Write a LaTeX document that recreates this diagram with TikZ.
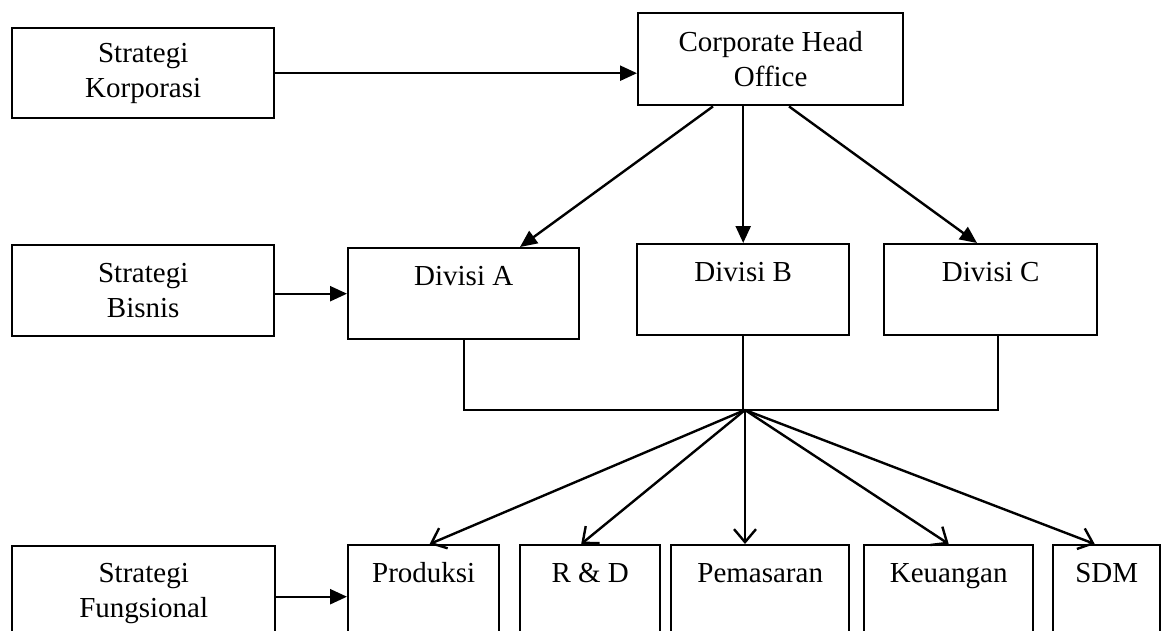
\documentclass[tikz,border=0pt]{standalone}
\usepackage{fontspec}
\setmainfont{Liberation Serif}
\usetikzlibrary{arrows.meta, calc, positioning}

\begin{document}
\begin{tikzpicture}[x=1pt,y=-1pt,line width=2.4pt,
        every node/.style={font=\fontsize{29}{35}\selectfont},
        box/.style={draw,anchor=north west,inner xsep=0pt},
        stratbox/.style={box,align=center,minimum height=90pt},
        unitbox/.style={box,text height=37pt,text depth=54pt,inner ysep=0pt},
        solid tip/.style={-{Triangle[length=17pt,width=15pt]}},
        open tip/.style={-{Straight Barb[length=13pt,width=22pt]}}]
    \path[use as bounding box,clip] (0,0) rectangle (1161,631);

    \node[stratbox,minimum width=262pt] (sk) at (11,27) {Strategi\\Korporasi};
    \node[stratbox,minimum width=265pt,minimum height=92pt] (cho) at (637,12) {Corporate Head\\Office};
    \node[stratbox,minimum width=262pt,minimum height=91pt] (sb) at (11,244) {Strategi\\Bisnis};
    \node[stratbox,minimum width=263pt,minimum height=95pt] (sf) at (11,545) {Strategi\\Fungsional};

    \node[unitbox,minimum width=231pt] (diva) at (347,247) {Divisi A};
    \node[unitbox,minimum width=212pt] (divb) at (636,243) {Divisi B};
    \node[unitbox,minimum width=213pt] (divc) at (883,243) {Divisi C};

    \node[unitbox,minimum width=151pt] (prod) at (347,544) {Produksi};
    \node[unitbox,minimum width=140pt] (rnd) at (519,544) {R \& D};
    \node[unitbox,minimum width=178pt] (pem) at (670,544) {Pemasaran};
    \node[unitbox,minimum width=169pt] (keu) at (863,544) {Keuangan};
    \node[unitbox,minimum width=107pt] (sdm) at (1052,544) {SDM};

    \coordinate (hub) at (745,410);

    \draw[solid tip] (sk.east) -- (sk.east -| cho.west);
    \draw[solid tip] (diva.west -| sb.east) -- (diva.west);
    \draw[solid tip] ($(sf.east)+(0,3)$) -- ($(sf.east -| prod.west)+(0,3)$);

    \draw[solid tip] ($(cho.south west)+(76,0)$) -- ($(diva.north west)+(173,0)$);
    \draw[solid tip] (divb.north |- cho.south) -- (divb.north);
    \draw[solid tip] ($(cho.south west)+(152,0)$) -- ($(divc.north west)+(94,0)$);

    \draw (diva.south) |- (hub);
    \draw (divb.south) -- (divb.south |- hub);
    \draw ($(divc.south)+(7,0)$) |- (hub);

    \foreach \unit/\dx in {prod/6,rnd/-9,keu/0,sdm/-12}
        \draw[open tip] (hub) -- ($(\unit.north)+(\dx,0)$);
    \draw[open tip] (hub) -- (hub |- pem.north);
\end{tikzpicture}
\end{document}
